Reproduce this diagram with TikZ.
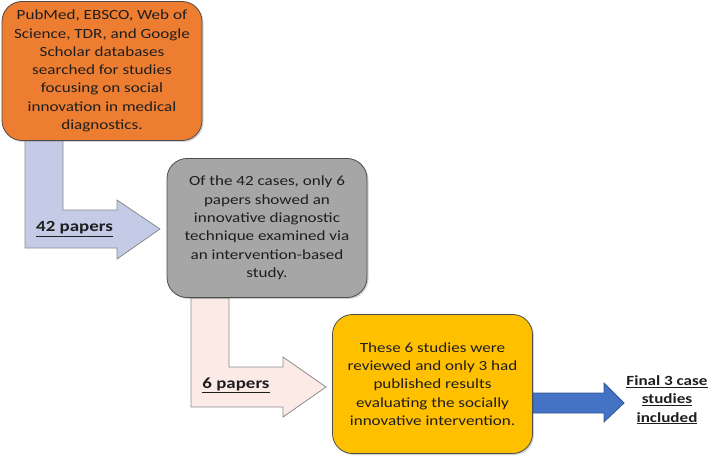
\documentclass[tikz,border=0pt]{standalone}
\usepackage{fontspec}
\setmainfont{Carlito}[FakeStretch=1.22]
\usetikzlibrary{shadows}
\definecolor{boxorange}{HTML}{ED7D31}
\definecolor{boxgray}{HTML}{A6A6A6}
\definecolor{boxyellow}{HTML}{FFC000}
\definecolor{arrlav}{HTML}{C3CBE6}
\definecolor{arrpink}{HTML}{FBEAE6}
\definecolor{arrblue}{HTML}{4472C4}
\definecolor{txt}{HTML}{1E1E1E}
\tikzset{
  stepbox/.style={draw=black!70, line width=0.8pt, rounded corners=20pt,
    minimum width=200pt, minimum height=139pt, align=center, text=txt,
    font=\fontsize{14}{18.3}\selectfont, inner sep=0pt,
    drop shadow={opacity=0.35, shadow xshift=1.5pt, shadow yshift=-1.5pt}},
  bentarrow/.style={draw=black!45, line width=0.8pt, line join=miter},
  lbl/.style={font=\fontsize{15.5}{18.3}\selectfont\bfseries, text=txt, align=center, inner sep=0pt},
  finlbl/.style={font=\fontsize{14}{18.3}\selectfont\bfseries, text=txt, align=center, inner sep=0pt}
}
\begin{document}
\begin{tikzpicture}[x=1pt,y=-1pt]
\useasboundingbox (0,0) rectangle (709,457);
% bent arrows (drawn first, behind the boxes)
\draw[bentarrow, fill=arrlav] (25,140) -- (63,140) -- (63,210) -- (117,210) -- (117,200) -- (160,229) -- (117,259) -- (117,248) -- (25,248) -- cycle;
\draw[bentarrow, fill=arrpink] (191,298) -- (229,298) -- (229,367) -- (283,367) -- (283,357) -- (326,387) -- (283,417) -- (283,407) -- (191,407) -- cycle;
% boxes
\node[stepbox, fill=boxorange] (b1) at (102,71) {PubMed, EBSCO, Web of\\Science, TDR, and Google\\Scholar databases\\searched for studies\\focusing on social\\innovation in medical\\diagnostics.};
\node[stepbox, fill=boxgray] (b2) at (267,228) {Of the 42 cases, only 6\\papers showed an\\innovative diagnostic\\technique examined via\\an intervention-based\\study.};
\node[stepbox, fill=boxyellow] (b3) at (432.5,384) {These 6 studies were\\reviewed and only 3 had\\published results\\evaluating the socially\\innovative intervention.};
% labels
\node[lbl] (l1) at (74.5,229) {\underline{42 papers}};
\node[lbl] (l2) at (236,385) {\underline{6 papers}};
\node[finlbl] (fin) at (667,400) {\underline{Final 3 case}\\\underline{studies}\\\underline{included}};
% final arrow
\draw[draw=arrblue!75!black, line width=0.8pt, fill=arrblue] (533,393) -- (604,393) -- (604,383) -- (624,403) -- (604,422) -- (604,413) -- (533,413) -- cycle;
\end{tikzpicture}
\end{document}
